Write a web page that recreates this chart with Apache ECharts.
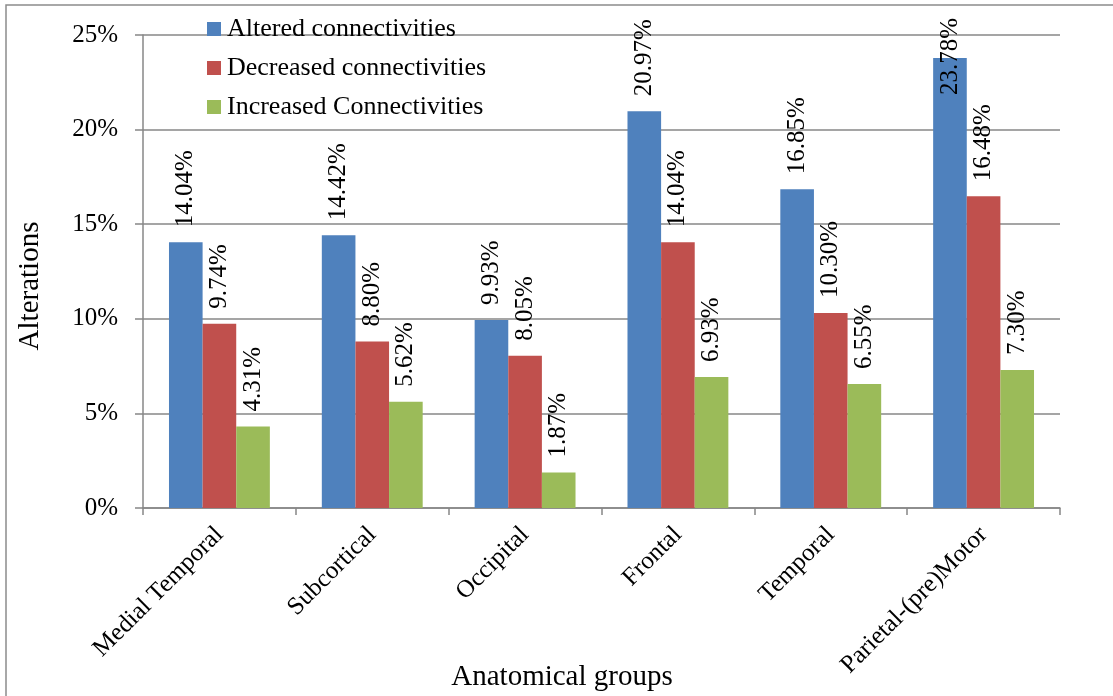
<!DOCTYPE html>
<html>
<head>
<meta charset="utf-8">
<title>Alterations by anatomical group</title>
<script src="https://cdn.jsdelivr.net/npm/echarts@6/dist/echarts.min.js"></script>
<style>
  html, body { margin: 0; padding: 0; background: #ffffff; }
  #chart { width: 1113px; height: 696px; }
</style>
</head>
<body>
<div id="chart"></div>
<script>
// Anatomical groups on the x axis
const groups = ['Medial Temporal', 'Subcortical', 'Occipital', 'Frontal', 'Temporal', 'Parietal-(pre)Motor'];

// Percentage of connectivities per group
const altered   = [14.04, 14.42, 9.93, 20.97, 16.85, 23.78];
const decreased = [9.74, 8.80, 8.05, 14.04, 10.30, 16.48];
const increased = [4.31, 5.62, 1.87, 6.93, 6.55, 7.30];

// Y axis ticks (percent)
const yTicks = [0, 5, 10, 15, 20, 25];

const seriesNames = ['Altered connectivities', 'Decreased connectivities', 'Increased Connectivities'];
const seriesColors = ['#4F81BD', '#C0504D', '#9BBB59'];

const FONT = "'Liberation Serif', 'Times New Roman', serif";
const AXIS_GRAY = '#878787';

const chart = echarts.init(document.getElementById('chart'), null, { renderer: 'canvas' });

// Labels that would run past the top of the chart are pulled down onto the bar
const yMax = yTicks[yTicks.length - 1];
const plotTop = 35, plotBottom = 508;
const labelLen = 80, labelGap = 15, labelCeil = 15;
function toData(values) {
  return values.map(v => {
    const barTop = plotBottom - v / yMax * (plotBottom - plotTop);
    const labelEnd = barTop - labelGap - labelLen;
    if (labelEnd < labelCeil) {
      return { value: v, label: { distance: barTop - (labelCeil + labelLen) } };
    }
    return v;
  });
}

const seriesData = [altered, decreased, increased];

chart.setOption({
  animation: false,
  backgroundColor: '#ffffff',
  textStyle: { fontFamily: FONT, color: '#000000' },
  grid: { left: 143, right: 53, top: plotTop, bottom: 696 - plotBottom, containLabel: false },
  legend: {
    orient: 'vertical',
    left: 202,
    top: 11,
    itemWidth: 14,
    itemHeight: 14,
    itemGap: 13,
    icon: 'rect',
    textStyle: { fontFamily: FONT, fontSize: 26, lineHeight: 26, color: '#000000', padding: [0, 0, 0, 1] },
    data: seriesNames
  },
  xAxis: {
    type: 'category',
    data: groups,
    axisLine: { show: true, lineStyle: { color: AXIS_GRAY, width: 1.5 } },
    axisTick: { show: true, alignWithLabel: false, length: 7, lineStyle: { color: AXIS_GRAY, width: 1.5 } },
    axisLabel: {
      interval: 0,
      rotate: 45,
      margin: 23,
      fontFamily: FONT,
      fontSize: 25,
      color: '#000000'
    },
    splitLine: { show: false }
  },
  yAxis: {
    type: 'value',
    min: yTicks[0],
    max: yMax,
    interval: yTicks[1] - yTicks[0],
    axisLine: { show: true, lineStyle: { color: AXIS_GRAY, width: 1.5 } },
    axisTick: { show: true, inside: false, length: 8, lineStyle: { color: AXIS_GRAY, width: 1.5 } },
    axisLabel: {
      margin: 25,
      fontFamily: FONT,
      fontSize: 25,
      color: '#000000',
      formatter: '{value}%'
    },
    splitLine: { show: true, lineStyle: { color: AXIS_GRAY, width: 1.5 } }
  },
  series: seriesNames.map((name, i) => ({
    name: name,
    type: 'bar',
    data: toData(seriesData[i]),
    barGap: '0%',
    barCategoryGap: '34%',
    itemStyle: { color: seriesColors[i] },
    label: {
      show: true,
      position: 'top',
      distance: labelGap,
      rotate: 90,
      align: 'left',
      verticalAlign: 'middle',
      fontFamily: FONT,
      fontSize: 25,
      color: '#000000',
      formatter: p => p.value.toFixed(2) + '%'
    }
  })),
  graphic: [
    {
      type: 'rect',
      silent: true,
      z: -1,
      shape: { x: 6, y: 5, width: 1200, height: 800 },
      style: { fill: 'none', stroke: '#8c8c8c', lineWidth: 1.5 }
    },
    {
      type: 'text',
      x: 30,
      y: 286,
      rotation: Math.PI / 2,
      style: {
        text: 'Alterations',
        font: '29px ' + FONT,
        fill: '#000000',
        align: 'center',
        verticalAlign: 'middle'
      }
    },
    {
      type: 'text',
      x: 562,
      y: 677,
      style: {
        text: 'Anatomical groups',
        font: '29px ' + FONT,
        fill: '#000000',
        align: 'center',
        verticalAlign: 'middle'
      }
    }
  ]
});
</script>
</body>
</html>
